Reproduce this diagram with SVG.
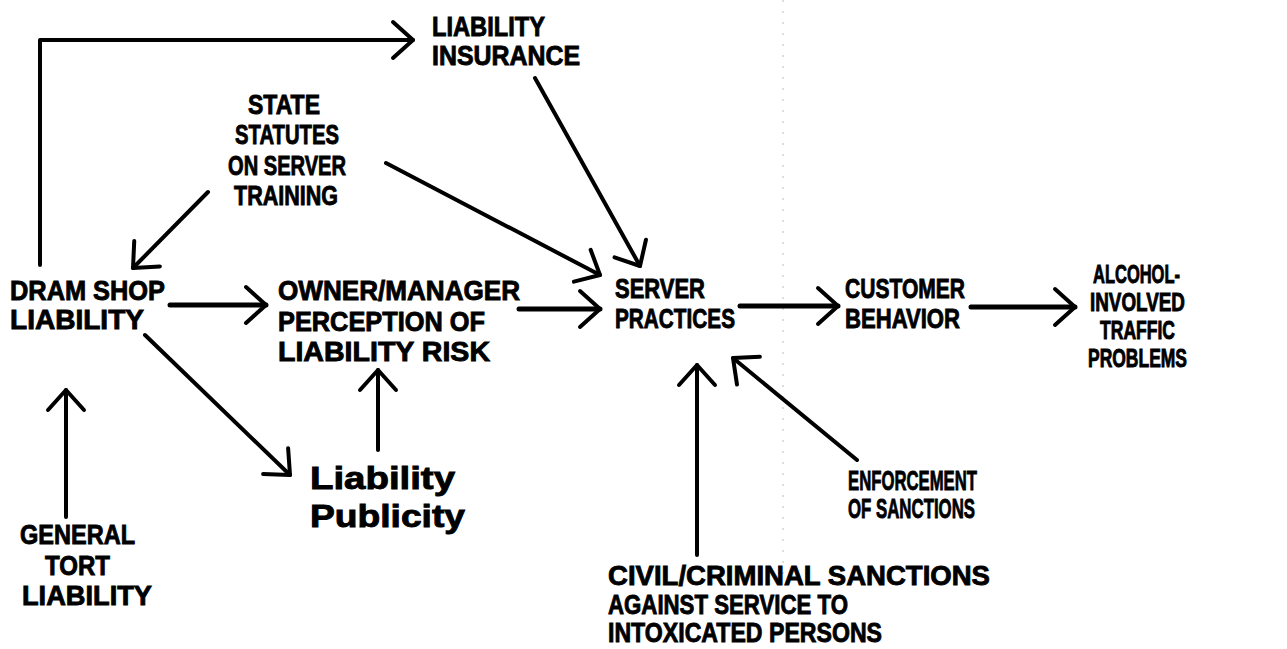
<svg xmlns="http://www.w3.org/2000/svg" width="1287" height="649" viewBox="0 0 1287 649">
<style>
.t{font-family:"Liberation Sans",Arial,sans-serif;font-weight:bold;font-size:28px;fill:#000;stroke:#000;stroke-width:0.9}
.s{font-size:25px}
.m{font-size:31px}
.c{fill:none;stroke:#000;stroke-width:4;stroke-linecap:round;stroke-linejoin:round}
.h{stroke-width:5}
.scan{fill:none;stroke:#bbb;stroke-width:1;stroke-dasharray:2 9}
</style>
<defs>
<marker id="ah" markerUnits="userSpaceOnUse" markerWidth="60" markerHeight="60" viewBox="-30 -30 60 60" refX="0" refY="0" orient="auto" overflow="visible">
<path d="M-20,-18 L0,0 L-20,18" fill="none" stroke="#000" stroke-width="4" stroke-linecap="round" stroke-linejoin="round"/>
</marker>
</defs>
<rect width="1287" height="649" fill="#fff"/>
<line class="scan" x1="783" y1="0" x2="783" y2="575"/>
<g id="connectors">
<path class="c" d="M40,265 V40 H413" marker-end="url(#ah)"/>
<line class="c" x1="535" y1="78" x2="640" y2="266" marker-end="url(#ah)"/>
<line class="c" x1="386" y1="163" x2="600" y2="275" marker-end="url(#ah)"/>
<line class="c" x1="208" y1="192" x2="133" y2="268" marker-end="url(#ah)"/>
<line class="c h" x1="170" y1="305" x2="266" y2="305" marker-end="url(#ah)"/>
<line class="c h" x1="519" y1="309" x2="600" y2="309" marker-end="url(#ah)"/>
<line class="c h" x1="740" y1="306" x2="838" y2="306" marker-end="url(#ah)"/>
<line class="c h" x1="971" y1="307" x2="1075" y2="307" marker-end="url(#ah)"/>
<line class="c" x1="66" y1="517" x2="66" y2="390" marker-end="url(#ah)"/>
<line class="c" x1="145" y1="335" x2="290" y2="475" marker-end="url(#ah)"/>
<line class="c" x1="378" y1="450" x2="378" y2="370" marker-end="url(#ah)"/>
<line class="c" x1="697" y1="555" x2="697" y2="365" marker-end="url(#ah)"/>
<line class="c" x1="857" y1="460" x2="733" y2="358" marker-end="url(#ah)"/>
</g>
<g id="liability-insurance">
<text class="t" x="432" y="36" textLength="113" lengthAdjust="spacingAndGlyphs">LIABILITY</text>
<text class="t" x="432" y="65" textLength="148" lengthAdjust="spacingAndGlyphs">INSURANCE</text>
</g>
<g id="state-statutes">
<text class="t" x="248" y="114" textLength="72" lengthAdjust="spacingAndGlyphs">STATE</text>
<text class="t" x="235" y="144" textLength="104" lengthAdjust="spacingAndGlyphs">STATUTES</text>
<text class="t" x="228" y="175" textLength="118" lengthAdjust="spacingAndGlyphs">ON SERVER</text>
<text class="t" x="234" y="205" textLength="104" lengthAdjust="spacingAndGlyphs">TRAINING</text>
</g>
<g id="dram-shop">
<text class="t" x="10" y="300" textLength="155" lengthAdjust="spacingAndGlyphs">DRAM SHOP</text>
<text class="t" x="10" y="329" textLength="134" lengthAdjust="spacingAndGlyphs">LIABILITY</text>
</g>
<g id="owner-manager">
<text class="t" x="278" y="300" textLength="242" lengthAdjust="spacingAndGlyphs">OWNER/MANAGER</text>
<text class="t" x="278" y="331" textLength="207" lengthAdjust="spacingAndGlyphs">PERCEPTION OF</text>
<text class="t" x="278" y="361" textLength="212" lengthAdjust="spacingAndGlyphs">LIABILITY RISK</text>
</g>
<g id="server-practices">
<text class="t" x="615" y="298" textLength="90" lengthAdjust="spacingAndGlyphs">SERVER</text>
<text class="t" x="615" y="328" textLength="120" lengthAdjust="spacingAndGlyphs">PRACTICES</text>
</g>
<g id="customer-behavior">
<text class="t" x="845" y="298" textLength="120" lengthAdjust="spacingAndGlyphs">CUSTOMER</text>
<text class="t" x="845" y="328" textLength="115" lengthAdjust="spacingAndGlyphs">BEHAVIOR</text>
</g>
<g id="alcohol-problems">
<text class="t s" x="1093" y="283" textLength="87" lengthAdjust="spacingAndGlyphs">ALCOHOL-</text>
<text class="t s" x="1090" y="311" textLength="95" lengthAdjust="spacingAndGlyphs">INVOLVED</text>
<text class="t s" x="1100" y="339" textLength="75" lengthAdjust="spacingAndGlyphs">TRAFFIC</text>
<text class="t s" x="1088" y="367" textLength="99" lengthAdjust="spacingAndGlyphs">PROBLEMS</text>
</g>
<g id="general-tort">
<text class="t" x="20" y="544" textLength="115" lengthAdjust="spacingAndGlyphs">GENERAL</text>
<text class="t" x="45" y="575" textLength="65" lengthAdjust="spacingAndGlyphs">TORT</text>
<text class="t" x="22" y="605" textLength="130" lengthAdjust="spacingAndGlyphs">LIABILITY</text>
</g>
<g id="liability-publicity">
<text class="t m" x="310" y="489" textLength="145" lengthAdjust="spacingAndGlyphs">Liability</text>
<text class="t m" x="310" y="527" textLength="155" lengthAdjust="spacingAndGlyphs">Publicity</text>
</g>
<g id="enforcement">
<text class="t" x="848" y="490" textLength="129" lengthAdjust="spacingAndGlyphs">ENFORCEMENT</text>
<text class="t" x="848" y="518" textLength="127" lengthAdjust="spacingAndGlyphs">OF SANCTIONS</text>
</g>
<g id="civil-criminal">
<text class="t" x="608" y="585" textLength="382" lengthAdjust="spacingAndGlyphs">CIVIL/CRIMINAL SANCTIONS</text>
<text class="t" x="608" y="614" textLength="240" lengthAdjust="spacingAndGlyphs">AGAINST SERVICE TO</text>
<text class="t" x="608" y="642" textLength="274" lengthAdjust="spacingAndGlyphs">INTOXICATED PERSONS</text>
</g>
</svg>
